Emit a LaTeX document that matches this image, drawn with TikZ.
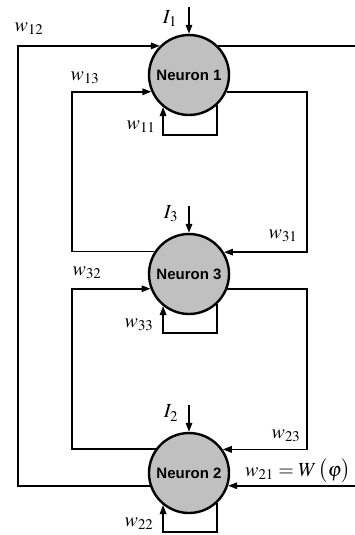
\documentclass[tikz,border=0pt]{standalone}
\usepackage{mathptmx}
\usepackage[no-math]{fontspec}
\newfontfamily\arialb{Liberation Sans}
\usetikzlibrary{arrows.meta,calc}
\definecolor{neurongray}{RGB}{192,192,192}
\tikzset{
  neuron/.style={circle,draw=black,line width=2.4pt,fill=neurongray,minimum size=80pt,inner sep=0pt,font=\arialb\bfseries\fontsize{15}{18}\selectfont},
  wire/.style={line width=1.6pt,line join=miter},
  arr/.style={wire,-{Triangle[length=9pt,width=6.5pt]}},
  lab/.style={inner sep=0pt,font=\fontsize{20}{24}\selectfont}
}
\begin{document}
\begin{tikzpicture}[x=1pt,y=-1pt]
\fill[white] (0,0) rectangle (355,535);
\useasboundingbox (0,0) rectangle (355,535);
\clip (0,0) rectangle (355,535);
\node[neuron] (n1) at (189,75) {Neuron 1};
\node[neuron] (n3) at (189,274) {Neuron 3};
\node[neuron] (n2) at (189,473) {Neuron 2};
\coordinate (lx) at (18,0);
\coordinate (mx) at (72,0);
\coordinate (rx) at (307,0);
\coordinate (ex) at (362,0);
\coordinate (l1) at (0,135);
\coordinate (l3) at (0,333);
\coordinate (l2) at (0,532);
\coordinate (i1) at (189,7);
\coordinate (i3) at (189,206);
\coordinate (i2) at (189,405);
% w12 : neuron 2 -> neuron 1
\draw[arr] (n2.198.5) -- (n2.198.5 -| lx) |- (n1.135);
% w21 : from outside -> neuron 2
\draw[wire] (n1.45) -- (n1.45 -| ex);
\draw[arr] (n2.-18.5 -| ex) -- (n2.-18.5);
% w13 : neuron 3 -> neuron 1
\draw[arr] (n3.147.5) -- (n3.147.5 -| mx) |- (n1.204.5);
% w31 : neuron 1 -> neuron 3
\draw[arr] (n1.-24.5) -- (n1.-24.5 -| rx) |- (n3.32.5);
% w32 : neuron 2 -> neuron 3
\draw[arr] (n2.144.2) -- (n2.144.2 -| mx) |- (n3.201.5);
% w23 : neuron 3 -> neuron 2
\draw[arr] (n3.-21.5) -- (n3.-21.5 -| rx) |- (n2.35.8);
% self loops
\draw[arr] (n1.-47) -- (n1.-47 |- l1) -- (n1.-129.4 |- l1) -- (n1.-129.4);
\draw[arr] (n3.-47) -- (n3.-47 |- l3) -- (n3.-129.4 |- l3) -- (n3.-129.4);
\draw[arr] (n2.-47) -- (n2.-47 |- l2) -- (n2.-129.4 |- l2) -- (n2.-129.4);
% inputs
\draw[arr] (i1) -- (n1.north);
\draw[arr] (i3) -- (n3.north);
\draw[arr] (i2) -- (n2.north);
% labels
\node[lab] (tI1) at (170,19) {$I_1$};
\node[lab] (tI3) at (171,214) {$I_3$};
\node[lab] (tI2) at (171,413) {$I_2$};
\node[lab] (t12) at (29,29) {$w_{12}$};
\node[lab] (t13) at (85,78) {$w_{13}$};
\node[lab] (t11) at (141,127) {$w_{11}$};
\node[lab] (t31) at (283,236) {$w_{31}$};
\node[lab] (t32) at (87,273) {$w_{32}$};
\node[lab] (t33) at (139,325) {$w_{33}$};
\node[lab] (t23) at (286,436) {$w_{23}$};
\node[lab,anchor=west] (t21) at (245,471) {$w_{21}=W\,\bigl(\varphi\bigr)$};
\node[lab] (t22) at (139,524) {$w_{22}$};
\end{tikzpicture}
\end{document}
